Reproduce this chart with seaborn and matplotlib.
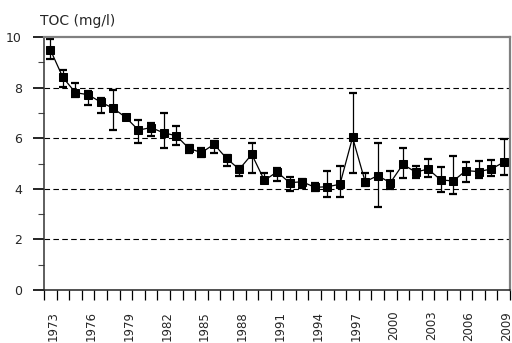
import numpy as np
import pandas as pd
import matplotlib
matplotlib.use("Agg")
import matplotlib.pyplot as plt
import seaborn as sns
from matplotlib.ticker import FixedLocator, MultipleLocator

years = list(range(1973, 2010))
toc = [9.5, 8.4, 7.8, 7.72, 7.43, 7.18, 6.82, 6.32, 6.42, 6.21, 6.1, 5.6, 5.43,
       5.76, 5.2, 4.77, 5.36, 4.33, 4.67, 4.24, 4.28, 4.06, 4.08, 4.18, 6.03,
       4.28, 4.52, 4.24, 4.97, 4.66, 4.78, 4.35, 4.31, 4.72, 4.68, 4.78, 5.05]
upper = [9.91, 8.7, 8.19, 7.88, 7.58, 7.9, 6.92, 6.72, 6.59, 7.01, 6.49, 5.73,
         5.6, 5.9, 5.34, 4.91, 5.82, 4.64, 4.81, 4.48, 4.39, 4.22, 4.72, 4.9,
         7.8, 4.61, 5.82, 4.72, 5.6, 4.9, 5.18, 4.87, 5.31, 5.07, 5.11, 5.14, 5.96]
lower = [9.12, 8.01, 7.62, 7.31, 7.01, 6.32, 6.72, 5.82, 6.09, 5.6, 5.73, 5.4,
         5.24, 5.43, 4.91, 4.5, 4.64, 4.22, 4.32, 3.91, 4.02, 3.93, 3.69, 3.69,
         4.62, 4.11, 3.29, 3.98, 4.41, 4.44, 4.47, 3.89, 3.79, 4.28, 4.41, 4.52, 4.53]
label_years = list(range(1973, 2010, 3))
y_ticks = [0, 2, 4, 6, 8, 10]
y_title = "TOC (mg/l)"

df = pd.DataFrame({"year": years, "toc": toc, "upper": upper, "lower": lower})

sns.set_theme(style="white")
plt.rcParams['font.family'] = ['DejaVu Sans']

fig = plt.figure(figsize=(5.12, 3.43), dpi=100)
ax = fig.add_axes([44/512, 1-290/343, (510-44)/512, (290-37)/343])

# gridlines
for v in [2, 4, 6, 8]:
    ax.axhline(v, color="black", lw=0.8, ls=(0, (5, 3)), zorder=1)

# error bars
ax.errorbar(df["year"], df["toc"],
            yerr=[df["toc"] - df["lower"], df["upper"] - df["toc"]],
            fmt="none", ecolor="black", elinewidth=0.9, capsize=2.8,
            capthick=1.6, zorder=2)

sns.lineplot(data=df, x="year", y="toc", ax=ax, color="black", lw=0.9,
             marker="s", markersize=5.3, markeredgecolor="black",
             markerfacecolor="black", zorder=3)

ax.set_xlim(1972.5, 2009.5)
ax.set_ylim(0, 10)
ax.set_xlabel("")
ax.set_ylabel("")

# y ticks
ax.set_yticks(y_ticks)
ax.set_yticklabels([str(v) for v in y_ticks], fontsize=9)
ax.yaxis.set_minor_locator(MultipleLocator(1))
ax.tick_params(axis="y", which="major", direction="out", length=8, width=1.2,
               color="black", pad=8, left=True)
ax.tick_params(axis="y", which="minor", direction="out", length=4, width=0.8,
               color="#444444", left=True)

# x ticks: minor at boundaries, labels slightly right of the category centre
ax.xaxis.set_minor_locator(FixedLocator(np.arange(1972.5, 2010, 1.0)))
ax.set_xticks([y + 0.25 for y in label_years])
ax.set_xticklabels([str(y) for y in label_years], rotation=90, fontsize=8.5,
                   va="top")
ax.tick_params(axis="x", which="major", length=0, pad=15, bottom=True)
ax.tick_params(axis="x", which="minor", direction="out", length=7.5,
               width=0.9, color="black", bottom=True)

for side in ["top", "right"]:
    ax.spines[side].set_color("#808080")
    ax.spines[side].set_linewidth(1.6)
ax.spines["left"].set_color("#333333")
ax.spines["left"].set_linewidth(1.1)
ax.spines["bottom"].set_color("#222222")
ax.spines["bottom"].set_linewidth(1.1)

fig.text(40/512, 1-21/343, y_title, fontsize=10, ha="left", va="center")

fig.savefig("out.png", dpi=100)
